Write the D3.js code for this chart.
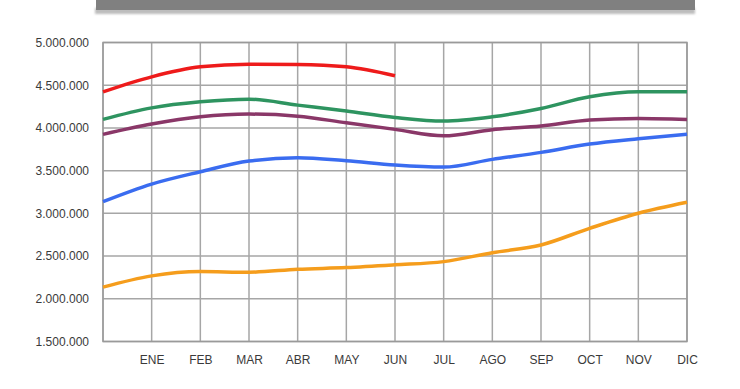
<!DOCTYPE html>
<html>
<head>
<meta charset="utf-8">
<script src="https://cdn.jsdelivr.net/npm/d3@7"></script>
<style>
  html, body { margin: 0; padding: 0; background: #fff; }
  svg { display: block; }
</style>
</head>
<body>
<svg id="chart" width="740" height="389"></svg>
<script>
// x positions: index 0 is the left edge (previous December), then ENE..DIC
const months = ["", "ENE", "FEB", "MAR", "ABR", "MAY", "JUN", "JUL", "AGO", "SEP", "OCT", "NOV", "DIC"];
const yTicks = [1500000, 2000000, 2500000, 3000000, 3500000, 4000000, 4500000, 5000000];

const seriesRed    = [4422000, 4598000, 4715000, 4746000, 4743000, 4715000, 4610000];
const seriesGreen  = [4100000, 4235000, 4306000, 4337000, 4267000, 4197000, 4123000, 4080000, 4130000, 4228000, 4364000, 4423000, 4423000];
const seriesPurple = [3925000, 4045000, 4130000, 4162000, 4138000, 4060000, 3983000, 3908000, 3980000, 4022000, 4092000, 4111000, 4100000];
const seriesBlue   = [3137000, 3343000, 3487000, 3612000, 3651000, 3616000, 3566000, 3542000, 3632000, 3714000, 3811000, 3873000, 3925000];
const seriesOrange = [2136000, 2268000, 2318000, 2311000, 2346000, 2365000, 2397000, 2435000, 2540000, 2630000, 2825000, 3001000, 3129000];

const series = [
  { values: seriesOrange, color: "#f59d1c" },
  { values: seriesBlue,   color: "#3a6cf0" },
  { values: seriesPurple, color: "#8a3768" },
  { values: seriesGreen,  color: "#2e9460" },
  { values: seriesRed,    color: "#ee1b1b" }
];

const svg = d3.select("#chart");
const pLeft = 103, pRight = 687, pTop = 42.5, pBottom = 341.5;

// banner at top
const defs = svg.append("defs");
const f = defs.append("filter").attr("id", "blur").attr("x", "-5%").attr("y", "-50%").attr("width", "110%").attr("height", "200%");
f.append("feGaussianBlur").attr("stdDeviation", 1.2);
svg.append("rect").attr("x", 95).attr("y", 8).attr("width", 600).attr("height", 6)
  .attr("fill", "#bdbdbd").attr("filter", "url(#blur)");
svg.append("rect").attr("x", 96).attr("y", -2).attr("width", 599).attr("height", 12)
  .attr("fill", "#808080");

const x = d3.scaleLinear().domain([0, 12]).range([pLeft, pRight]);
const y = d3.scaleLinear().domain([1500000, 5000000]).range([pBottom, pTop]);

const grid = svg.append("g");
grid.selectAll("line.h").data(yTicks).join("line")
  .attr("x1", pLeft).attr("x2", pRight)
  .attr("y1", d => y(d)).attr("y2", d => y(d))
  .attr("stroke", "#a6a6a6").attr("stroke-width", 1.5);
grid.selectAll("line.v").data(d3.range(13)).join("line")
  .attr("y1", pTop).attr("y2", pBottom)
  .attr("x1", d => x(d)).attr("x2", d => x(d))
  .attr("stroke", "#a6a6a6").attr("stroke-width", 1.5);
svg.append("rect").attr("x", pLeft).attr("y", pTop).attr("width", pRight - pLeft).attr("height", pBottom - pTop)
  .attr("fill", "none").attr("stroke", "#9a9a9a").attr("stroke-width", 1.5);

const fmt = v => d3.format(",")(v).replace(/,/g, ".");

const yAxis = d3.axisLeft(y).tickValues(yTicks).tickFormat(fmt).tickSize(0).tickPadding(14);
const gy = svg.append("g").attr("transform", `translate(${pLeft},0)`).call(yAxis);
gy.select(".domain").remove();
gy.selectAll("text").attr("font-family", "Liberation Sans, Arial, sans-serif")
  .attr("font-size", 12).attr("fill", "#3a3a3a");

const xAxis = d3.axisBottom(x).tickValues(d3.range(1, 13)).tickFormat(i => months[i]).tickSize(0).tickPadding(14);
const gx = svg.append("g").attr("transform", `translate(0,${pBottom})`).call(xAxis);
gx.select(".domain").remove();
gx.selectAll("text").attr("font-family", "Liberation Sans, Arial, sans-serif")
  .attr("font-size", 12).attr("fill", "#3a3a3a");

const line = d3.line().x((d, i) => x(i)).y(d => y(d)).curve(d3.curveMonotoneX);
svg.append("g").selectAll("path").data(series).join("path")
  .attr("d", s => line(s.values))
  .attr("fill", "none")
  .attr("stroke", s => s.color)
  .attr("stroke-width", 3.5)
  .attr("stroke-linecap", "butt")
  .attr("stroke-linejoin", "round");
</script>
</body>
</html>
